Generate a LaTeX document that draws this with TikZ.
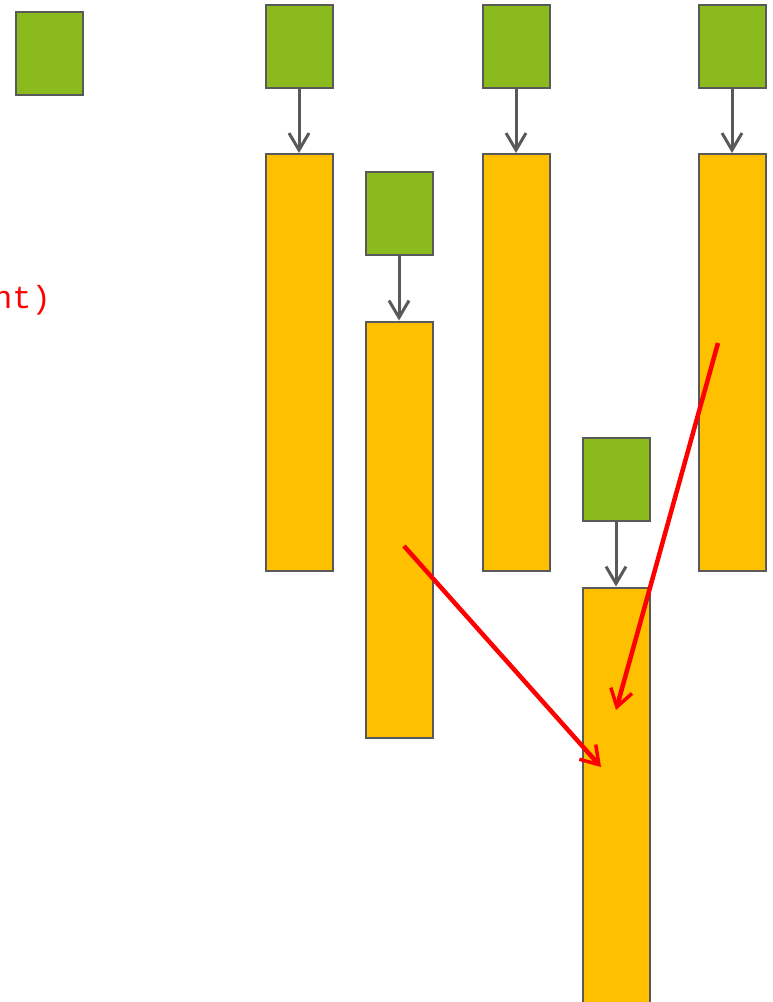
\documentclass[tikz,border=0pt]{standalone}
\usepackage{fontspec}
\newfontfamily\monofont{Liberation Mono}
\usetikzlibrary{arrows.meta}
\definecolor{lgreen}{HTML}{8BBA1C}
\definecolor{lorange}{HTML}{FFC000}
\definecolor{edge}{HTML}{595959}
\tikzset{
  gbox/.style={draw=edge, line width=2pt, fill=lgreen, minimum width=67pt, minimum height=83pt, inner sep=0pt, anchor=north west},
  obox/.style={draw=edge, line width=2pt, fill=lorange, minimum width=67pt, inner sep=0pt, anchor=north west},
  garrow/.style={draw=edge, line width=3pt, -{Straight Barb[length=17pt,width=20pt,line width=3pt]}},
  rarrow/.style={draw=red, line width=4.5pt, -{Straight Barb[length=17pt,width=22pt,line width=3.5pt]}},
}
\begin{document}
\begin{tikzpicture}[x=1pt,y=-1pt]
\useasboundingbox (0,0) rectangle (773,1002);
\node[gbox] (g1) at (14.5,10.5) {};
\node[font=\monofont\fontsize{32}{32}\selectfont, text=red, anchor=base east, inner sep=0pt] (t) at (51,308) {nt)};
% column 2
\node[gbox] (g2) at (264.5,3.5) {};
\node[obox, minimum height=417pt] (o2) at (264.5,153) {};
% column 3
\node[gbox] (g3) at (364.5,170.5) {};
\node[obox, minimum height=416pt] (o3) at (364.5,320.5) {};
% column 4
\node[gbox] (g4) at (481.5,3.5) {};
\node[obox, minimum height=417pt] (o4) at (481.5,153) {};
% column 5
\node[gbox] (g5) at (697.5,3.5) {};
\node[obox, minimum height=417pt] (o5) at (697.5,153) {};
% column 6
\node[gbox] (g6) at (581.5,436.5) {};
\node[obox, minimum height=430pt] (o6) at (581.5,586.5) {};
\draw[garrow] (g2.south) -- (o2.north);
\draw[garrow] (g3.south) -- (o3.north);
\draw[garrow] (g4.south) -- (o4.north);
\draw[garrow] (g5.south) -- (o5.north);
\draw[garrow] (g6.south) -- (o6.north);
\coordinate (r1s) at (404,546);
\coordinate (r1e) at (601,767);
\coordinate (r2s) at (718,343);
\coordinate (r2e) at (616,710);
\draw[rarrow] (r1s) -- (r1e);
\draw[rarrow] (r2s) -- (r2e);
\end{tikzpicture}
\end{document}
